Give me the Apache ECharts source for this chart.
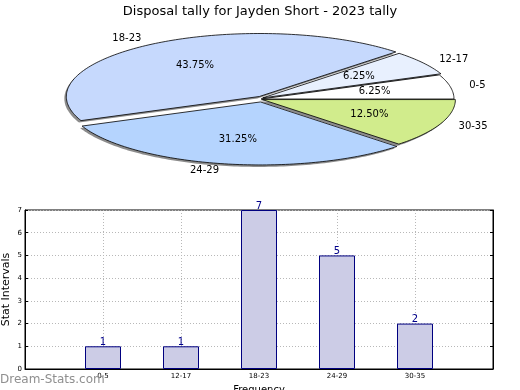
<!DOCTYPE html>
<html><head><meta charset="utf-8">
<script src="https://cdn.jsdelivr.net/npm/echarts@6/dist/echarts.min.js"></script>
<style>html,body{margin:0;padding:0;background:#fff}#c{width:520px;height:390px}</style>
</head><body><div id="c"></div>
<script>
const titleText = 'Disposal tally for Jayden Short - 2023 tally';
const categories = ['0-5', '12-17', '18-23', '24-29', '30-35'];
const values = [1, 1, 7, 5, 2];
const sliceColors = ['#ffffff', '#e8f0fe', '#c6d9fd', '#b5d4fe', '#d1ec8c'];
const explodePx = [0, 2, 3, 3, 1.5];
const yTicks = [0, 1, 2, 3, 4, 5, 6, 7];

const FONT = 'DejaVu Sans';
const CX = 261, CY = 99, RX = 193, RY = 63;
const total = values.reduce((a, b) => a + b, 0);
const starts = [];
(function () { let acc = 0; values.forEach(v => { starts.push(acc / total * Math.PI * 2); acc += v; }); })();

function geom(i) {
  const a0 = starts[i], a1 = a0 + values[i] / total * Math.PI * 2;
  const mid = (a0 + a1) / 2;
  const dx = explodePx[i] * Math.cos(mid), dy = -explodePx[i] * Math.sin(mid);
  return { a0, a1, mid, dx, dy };
}
function slicePts(i, ox, oy) {
  const g = geom(i);
  const pts = [[CX + g.dx + ox, CY + g.dy + oy]];
  const n = Math.max(8, Math.ceil((g.a1 - g.a0) / 0.02));
  for (let k = 0; k <= n; k++) {
    const a = g.a0 + (g.a1 - g.a0) * k / n;
    pts.push([CX + g.dx + ox + RX * Math.cos(a), CY + g.dy + oy - RY * Math.sin(a)]);
  }
  return pts;
}

const chart = echarts.init(document.getElementById('c'));
const xData = [''].concat(categories, ['']);
const barData = ['-'].concat(values, ['-']);

chart.setOption({
  animation: false,
  title: { text: titleText, left: 'center', top: 0, textStyle: { fontFamily: FONT, fontSize: 13, fontWeight: 'normal', color: '#000' } },
  grid: { left: 25, top: 210, right: 27, bottom: 21, outerBoundsMode: 'none', containLabel: false, show: true, borderColor: '#000', borderWidth: 1, backgroundColor: 'transparent' },
  xAxis: {
    type: 'category', data: xData, boundaryGap: false,
    name: 'Frequency', nameLocation: 'middle', nameGap: 16, nameMoveOverlap: false,
    nameTextStyle: { fontFamily: FONT, fontSize: 10, color: '#000', verticalAlign: 'top' },
    axisLine: { lineStyle: { color: '#000' } },
    axisTick: { inside: true, length: 3, lineStyle: { color: '#000' } },
    axisLabel: { fontFamily: FONT, fontSize: 7, color: '#000', margin: 4, interval: 0 },
    splitLine: { show: true, lineStyle: { color: '#b8b8b8', type: [1, 2] } }
  },
  yAxis: [{
    type: 'value', min: 0, max: 7, interval: 1,
    name: 'Stat Intervals', nameLocation: 'middle', nameGap: 13, nameRotate: 90, nameMoveOverlap: false,
    nameTextStyle: { fontFamily: FONT, fontSize: 11, color: '#000' },
    axisLine: { show: true, lineStyle: { color: '#000' } },
    axisTick: { show: true, inside: true, length: 3, lineStyle: { color: '#000' } },
    axisLabel: { fontFamily: FONT, fontSize: 7, color: '#000', margin: 3, formatter: v => yTicks.indexOf(v) >= 0 ? String(v) : '' },
    splitLine: { show: true, lineStyle: { color: '#b8b8b8', type: [1, 2] } }
  }, {
    type: 'value', min: 0, max: 7, interval: 1, position: 'right',
    axisLine: { show: true, lineStyle: { color: '#000' } },
    axisTick: { show: true, inside: true, length: 3, lineStyle: { color: '#000' } },
    axisLabel: { show: false }, splitLine: { show: false }
  }],
  graphic: [{
    type: 'text', left: 0, top: 374, z: 10,
    style: { text: 'Dream-Stats.com', fontFamily: FONT, fontSize: 12, fill: '#8f8f8f' }
  }],
  series: [
    {
      type: 'bar', data: barData, barWidth: 36,
      itemStyle: { color: '#ccccE6', borderColor: '#000080', borderWidth: 1 },
      label: { show: true, position: 'top', distance: -1, fontFamily: FONT, fontSize: 10, color: '#00008b' },
      z: 3
    },
    {
      type: 'custom', coordinateSystem: 'none', data: values.map(v => [v]), z: 5,
      renderItem: function (params) {
        const i = params.dataIndex;
        return { type: 'polygon', shape: { points: slicePts(i, -2, 2) }, style: { fill: 'rgba(0,0,0,0.45)' }, silent: true };
      }
    },
    {
      type: 'custom', coordinateSystem: 'none', data: values.map(v => [v]), z: 6,
      renderItem: function (params) {
        const i = params.dataIndex;
        const g = geom(i);
        const c = Math.cos(g.mid), s = Math.sin(g.mid);
        const lx = CX + g.dx + 1.1 * RX * c, ly = CY + g.dy - 1.1 * RY * s;
        const px = CX + g.dx + 0.6 * RX * c, py = CY + g.dy - 0.6 * RY * s;
        const pct = (values[i] / total * 100).toFixed(2) + '%';
        return {
          type: 'group', children: [
            { type: 'polygon', shape: { points: slicePts(i, 0, 0) }, style: { fill: sliceColors[i], stroke: '#000', lineWidth: 0.8 } },
            { type: 'text', x: lx, y: ly, style: { text: categories[i], fontFamily: FONT, fontSize: 10, fill: '#000', align: c < 0 ? 'right' : 'left', verticalAlign: 'middle' } },
            { type: 'text', x: px, y: py, style: { text: pct, fontFamily: FONT, fontSize: 10, fill: '#000', align: 'center', verticalAlign: 'middle' } }
          ]
        };
      }
    }
  ]
});
</script></body></html>
